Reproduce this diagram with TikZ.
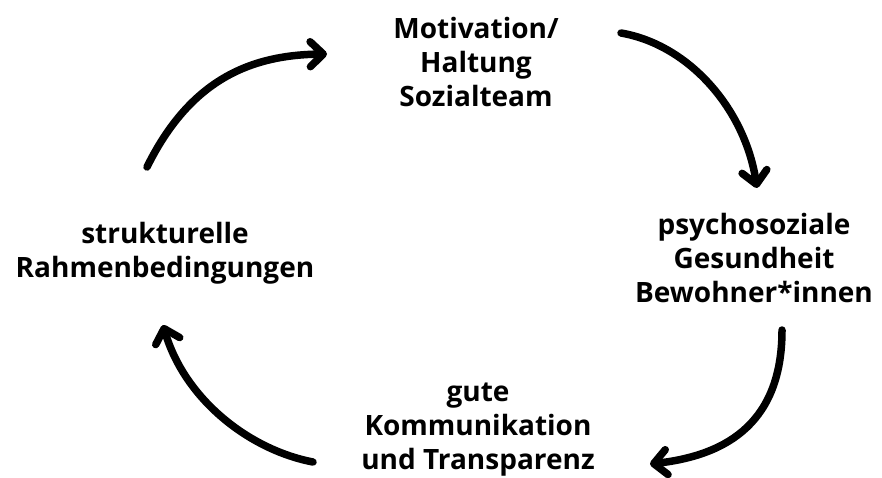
\documentclass[tikz,border=0pt]{standalone}
\usepackage{fontspec}
\setmainfont{Open Sans}
\usetikzlibrary{arrows.meta}
\begin{document}
\begin{tikzpicture}[x=1pt,y=-1pt,
  lbl/.style={align=center,inner sep=0pt,font=\bfseries\fontsize{28}{34}\selectfont},
  pfeil/.style={line width=7.5pt,line cap=round,-{Straight Barb[round,length=13pt,width=25pt]}}]
\useasboundingbox(0,0)rectangle(882,478);
%
\node[lbl](mot)at(476,62){Motivation/\\Haltung\\Sozialteam};
\node[lbl](psy)at(754,258){psychosoziale\\Gesundheit\\Bewohner*innen};
\node[lbl](kom)at(478,430){gute\\Kommunikation\\und Transparenz};
\node[lbl](str)at(165,253){strukturelle\\Rahmenbedingungen};
%
\draw[pfeil](147,167)..controls(190,80)and(250,55)..(327,54);
\draw[pfeil](621,33)..controls(690,45)and(745,110)..(757,188);
\draw[pfeil](782,330)..controls(782,420)and(730,455)..(650,464);
\draw[pfeil](313,462)..controls(250,450)and(185,400)..(163,325);
\end{tikzpicture}
\end{document}
